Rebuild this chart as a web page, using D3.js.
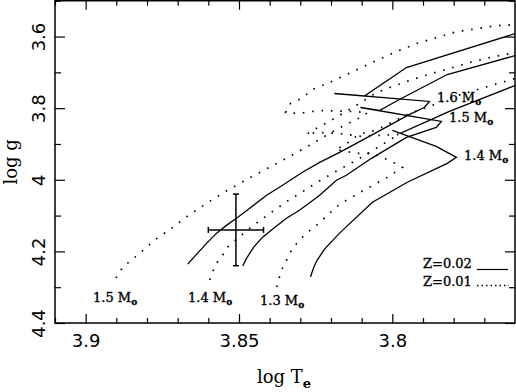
<!DOCTYPE html>
<html><head><meta charset="utf-8">
<script src="https://cdn.jsdelivr.net/npm/d3@7"></script>
<style>body{margin:0;background:#fff;overflow:hidden}</style>
</head><body><svg id="c" width="516" height="392"></svg>
<script>
// ---- data (log Te, log g) ----
const xTicks = [3.9, 3.85, 3.8];
const xMinor = [3.91,3.89,3.88,3.87,3.86,3.84,3.83,3.82,3.81,3.79,3.78,3.77];
const yTicks = [3.6, 3.8, 4, 4.2, 4.4];
const yMinor = [3.5,3.7,3.9,4.1,4.3];

const solid16 = [[3.8667,4.2354],[3.8635,4.2047],[3.8605,4.1769],[3.8573,4.1490],[3.8540,4.1267],[3.8508,4.1072],[3.8465,4.0794],[3.8410,4.0432],[3.8358,4.0153],[3.8293,3.9791],[3.8237,3.9513],[3.8172,3.9234],[3.8075,3.8788],[3.7944,3.8175],[3.7896,3.7981],[3.7879,3.7813],[3.8189,3.7591],[3.8091,3.7660],[3.7954,3.6866],[3.7600,3.5919]];
const solid15 = [[3.8488,4.2409],[3.8475,4.2187],[3.8452,4.1880],[3.8423,4.1602],[3.8387,4.1351],[3.8345,4.1072],[3.8303,4.0850],[3.8263,4.0599],[3.8237,4.0432],[3.8182,4.0014],[3.8150,3.9875],[3.8068,3.9401],[3.7954,3.8816],[3.7857,3.8538],[3.7840,3.8370],[3.8104,3.7981],[3.8042,3.8064],[3.7977,3.7758],[3.7821,3.7061],[3.7600,3.6532]];
const solid14 = [[3.8267,4.2716],[3.8257,4.2465],[3.8247,4.2270],[3.8221,4.1936],[3.8172,4.1490],[3.8065,4.0627],[3.7951,4.0070],[3.7821,3.9540],[3.7791,3.9373],[3.7857,3.9067],[3.8000,3.8621],[3.7974,3.8705],[3.7814,3.8092],[3.7600,3.7368]];

const dotted15 = [[3.8901,4.2744],[3.8879,4.2437],[3.8823,4.2047],[3.8771,4.1657],[3.8719,4.1351],[3.8664,4.0989],[3.8605,4.0655],[3.8543,4.0320],[3.8456,3.9903],[3.8364,3.9485],[3.8276,3.9067],[3.8182,3.8593],[3.8091,3.8203],[3.8081,3.8120],[3.8133,3.8092],[3.8237,3.8064],[3.8306,3.8148],[3.8348,3.8120],[3.8332,3.7869],[3.8296,3.7730],[3.8260,3.7479],[3.8205,3.7284],[3.8107,3.6894],[3.8052,3.6671],[3.7987,3.6421],[3.7922,3.6198],[3.7791,3.5864],[3.7661,3.5696],[3.7600,3.5669]];
const dotted14 = [[3.8595,4.2799],[3.8586,4.2577],[3.8573,4.2326],[3.8553,4.2103],[3.8537,4.1880],[3.8504,4.1630],[3.8452,4.1267],[3.8394,4.0905],[3.8338,4.0571],[3.8280,4.0265],[3.8250,4.0097],[3.8189,3.9791],[3.8130,3.9513],[3.8084,3.9290],[3.8042,3.9067],[3.8006,3.8872],[3.7977,3.8733],[3.8039,3.8760],[3.8101,3.8788],[3.8176,3.8705],[3.8250,3.8677],[3.8280,3.8733],[3.8254,3.8593],[3.8224,3.8454],[3.8195,3.8315],[3.8156,3.8120],[3.8107,3.7869],[3.8052,3.7563],[3.8000,3.7396],[3.7935,3.7201],[3.7873,3.7033],[3.7814,3.6894],[3.7749,3.6727],[3.7684,3.6588],[3.7600,3.6448]];
const dotted13 = [[3.8377,4.2994],[3.8368,4.2716],[3.8358,4.2465],[3.8345,4.2242],[3.8329,4.1964],[3.8309,4.1741],[3.8280,4.1490],[3.8254,4.1323],[3.8172,4.0682],[3.8075,4.0209],[3.8010,3.9903],[3.7967,3.9652],[3.8010,3.9457],[3.8068,3.9262],[3.8117,3.9262],[3.8153,3.9206],[3.8185,3.9150],[3.8156,3.9039],[3.8110,3.8733],[3.8068,3.8649],[3.8036,3.8538],[3.8010,3.8426],[3.7977,3.8287],[3.7944,3.8148],[3.7879,3.7953],[3.7798,3.7674],[3.7700,3.7423],[3.7600,3.7173]];

const massZ02 = ["1.6", "1.5", "1.4"];
const massZ01 = ["1.5", "1.4", "1.3"];
const legendText = ["Z=0.02", "Z=0.01"];
const obs = {te: 3.851, g: 4.14, dte: 0.009, dg: 0.1};

// ---- layout ----
const svg = d3.select("#c");
const L = 55, R = 515, T = 0.75, B = 323;
const x = d3.scaleLinear().domain([3.91, 3.76]).range([L, R]);
const y = d3.scaleLinear().domain([3.5, 4.4]).range([T, B]);

svg.append("defs").append("clipPath").attr("id","clip")
  .append("rect").attr("x",L).attr("y",T).attr("width",R-L).attr("height",B-T);

const line = d3.line().x(d=>x(d[0])).y(d=>y(d[1]));
const g = svg.append("g").attr("clip-path","url(#clip)");
[solid16, solid15, solid14].forEach(tr=>{
  g.append("path").attr("d", line(tr)).attr("fill","none").attr("stroke","#000").attr("stroke-width",1.3);
});
[dotted15, dotted14, dotted13].forEach(tr=>{
  g.append("path").attr("d", line(tr)).attr("fill","none").attr("stroke","#000")
   .attr("stroke-width",1.7).attr("stroke-dasharray","1.6,7.8");
});

// error cross
const eb = svg.append("g").attr("stroke","#000").attr("stroke-width",1.5);
eb.append("line").attr("x1",x(obs.te)).attr("x2",x(obs.te)).attr("y1",y(obs.g-obs.dg)).attr("y2",y(obs.g+obs.dg));
eb.append("line").attr("x1",x(obs.te+obs.dte)).attr("x2",x(obs.te-obs.dte)).attr("y1",y(obs.g)).attr("y2",y(obs.g));
[obs.g-obs.dg, obs.g+obs.dg].forEach(v=>eb.append("line").attr("x1",x(obs.te)-3).attr("x2",x(obs.te)+3).attr("y1",y(v)).attr("y2",y(v)));
[obs.te-obs.dte, obs.te+obs.dte].forEach(v=>eb.append("line").attr("x1",x(v)).attr("x2",x(v)).attr("y1",y(obs.g)-3).attr("y2",y(obs.g)+3));

// axes
function styleAxis(sel){ sel.select(".domain").remove(); sel.selectAll("line").attr("stroke","#000").attr("stroke-width",1.2); }
const fmt = d3.format("");
svg.append("g").attr("transform",`translate(0,${B})`)
  .call(d3.axisBottom(x).tickValues(xTicks).tickSize(-9).tickSizeOuter(0).tickPadding(11).tickFormat(d=>d))
  .call(styleAxis)
  .selectAll("text").attr("font-family","DejaVu Sans, sans-serif").attr("font-size",18).attr("fill","#000");
svg.append("g").attr("transform",`translate(0,${B})`)
  .call(d3.axisBottom(x).tickValues(xMinor).tickSize(-5).tickSizeOuter(0).tickFormat(""))
  .call(styleAxis);
svg.append("g").attr("transform",`translate(0,${T})`)
  .call(d3.axisTop(x).tickValues(xTicks).tickSize(-9).tickSizeOuter(0).tickFormat(""))
  .call(styleAxis);
svg.append("g").attr("transform",`translate(0,${T})`)
  .call(d3.axisTop(x).tickValues(xMinor).tickSize(-5).tickSizeOuter(0).tickFormat(""))
  .call(styleAxis);

const yl = svg.append("g").attr("transform",`translate(${L},0)`)
  .call(d3.axisLeft(y).tickValues(yTicks).tickSize(-10).tickSizeOuter(0).tickFormat(d=>d))
  .call(styleAxis);
yl.selectAll("text").attr("x",null).attr("dy",null).attr("text-anchor","middle")
  .attr("transform","translate(-10,0) rotate(-90)")
  .attr("font-family","DejaVu Sans, sans-serif").attr("font-size",18).attr("fill","#000");
svg.append("g").attr("transform",`translate(${L},0)`)
  .call(d3.axisLeft(y).tickValues(yMinor).tickSize(-6).tickSizeOuter(0).tickFormat(""))
  .call(styleAxis);
svg.append("g").attr("transform",`translate(${R},0)`)
  .call(d3.axisRight(y).tickValues(yTicks).tickSize(-10).tickSizeOuter(0).tickFormat(""))
  .call(styleAxis);
svg.append("g").attr("transform",`translate(${R},0)`)
  .call(d3.axisRight(y).tickValues(yMinor).tickSize(-6).tickSizeOuter(0).tickFormat(""))
  .call(styleAxis);

svg.append("rect").attr("x",L).attr("y",T).attr("width",R-L).attr("height",B-T)
  .attr("fill","none").attr("stroke","#000").attr("stroke-width",1.5);

// axis titles
const serif = "DejaVu Serif, serif";
const xt = svg.append("text").attr("x",257).attr("y",383).attr("font-family",serif).attr("font-size",18).attr("fill","#000");
xt.append("tspan").text("log T");
xt.append("tspan").attr("font-size",13).attr("font-weight","bold").attr("dy",5).text("e");
svg.append("text").attr("transform",`translate(17,${(T+B)/2}) rotate(-90)`).attr("text-anchor","middle")
  .attr("font-family",serif).attr("font-size",18).attr("fill","#000").text("log g");

// mass labels
function massLabel(px, py, m){
  const t = svg.append("text").attr("x",px).attr("y",py).attr("font-family",serif).attr("font-size",13)
    .attr("fill","#000").attr("stroke","#000").attr("stroke-width",0.35);
  t.append("tspan").text(m + " M");
  t.append("tspan").attr("font-size",9).attr("font-weight","bold").attr("dy",3).text("o");
}
const z02pos = [[437,101.5],[449,121.5],[464,160]];
const z01pos = [[93,301.5],[188,301.5],[260,305]];
massZ02.forEach((m,i)=>massLabel(z02pos[i][0], z02pos[i][1], m));
massZ01.forEach((m,i)=>massLabel(z01pos[i][0], z01pos[i][1], m));

// legend
const lg = svg.append("g");
lg.append("text").attr("x",423).attr("y",268).attr("font-family",serif).attr("font-size",13)
  .attr("fill","#000").attr("stroke","#000").attr("stroke-width",0.35).text(legendText[0]);
lg.append("text").attr("x",423).attr("y",286).attr("font-family",serif).attr("font-size",13)
  .attr("fill","#000").attr("stroke","#000").attr("stroke-width",0.35).text(legendText[1]);
lg.append("line").attr("x1",477).attr("x2",508).attr("y1",269.5).attr("y2",269.5).attr("stroke","#000").attr("stroke-width",1.2);
lg.append("line").attr("x1",477).attr("x2",509).attr("y1",285.5).attr("y2",285.5).attr("stroke","#000")
  .attr("stroke-width",1.5).attr("stroke-dasharray","1.5,3");
</script></body></html>
